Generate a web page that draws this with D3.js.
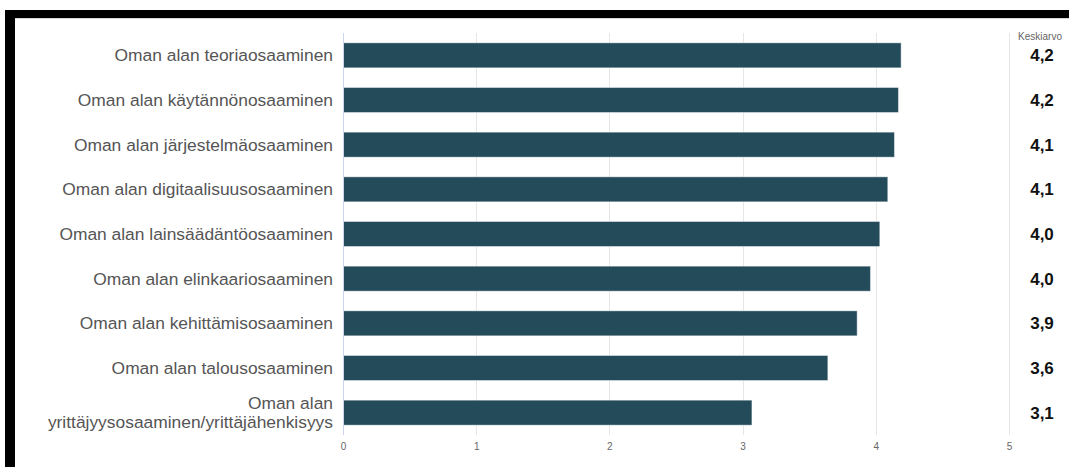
<!DOCTYPE html>
<html>
<head>
<meta charset="utf-8">
<script src="https://cdn.jsdelivr.net/npm/d3@7"></script>
<style>
  html, body { margin: 0; padding: 0; background: #fff; }
  svg { display: block; font-family: "Liberation Sans", Arial, sans-serif; }
</style>
</head>
<body>
<div id="chart"></div>
<script>
// Data
const categories = [
  "Oman alan teoriaosaaminen",
  "Oman alan käytännönosaaminen",
  "Oman alan järjestelmäosaaminen",
  "Oman alan digitaalisuusosaaminen",
  "Oman alan lainsäädäntöosaaminen",
  "Oman alan elinkaariosaaminen",
  "Oman alan kehittämisosaaminen",
  "Oman alan talousosaaminen",
  "Oman alan yrittäjyysosaaminen/yrittäjähenkisyys"
];
const values = [4.19, 4.17, 4.14, 4.09, 4.03, 3.96, 3.86, 3.64, 3.07];
const averageLabels = ["4,2", "4,2", "4,1", "4,1", "4,0", "4,0", "3,9", "3,6", "3,1"];
const xTicks = [0, 1, 2, 3, 4, 5];

// Constants
const width = 1069;
const height = 467;
const margin = {top: 33, right: 60, bottom: 32, left: 343};
const innerWidth = 1009 - margin.left;
const innerHeight = height - margin.top - margin.bottom;
const barColor = "#244b5a";

const svg = d3.select("#chart")
  .append("svg")
    .attr("width", width)
    .attr("height", height);

// Frame (black band top + left)
svg.append("rect")
  .attr("x", 5).attr("y", 10)
  .attr("width", width - 5).attr("height", 8)
  .attr("fill", "#000");
svg.append("rect")
  .attr("x", 5).attr("y", 10)
  .attr("width", 10).attr("height", height - 10)
  .attr("fill", "#000");
svg.append("line")
  .attr("x1", 15).attr("x2", width)
  .attr("y1", 18.5).attr("y2", 18.5)
  .attr("stroke", "#d8d8d8");

const innerChart = svg.append("g")
  .attr("transform", `translate(${margin.left}, ${margin.top})`);

// Scales
const xScale = d3.scaleLinear()
  .domain([0, 5])
  .range([0, innerWidth]);

const yScale = d3.scaleBand()
  .domain(categories)
  .range([0, innerHeight])
  .paddingInner(0.44)
  .paddingOuter(0.22);

// Gridlines
innerChart.append("g")
  .selectAll("line")
  .data(xTicks.slice(1))
  .join("line")
    .attr("x1", d => Math.round(xScale(d)) + 0.5)
    .attr("x2", d => Math.round(xScale(d)) + 0.5)
    .attr("y1", 0)
    .attr("y2", innerHeight)
    .attr("stroke", "#e6e6e6");

// Bottom axis (labels only)
const bottomAxis = d3.axisBottom(xScale)
  .tickValues(xTicks)
  .tickSize(0)
  .tickPadding(8)
  .tickFormat(d3.format("d"));
innerChart.append("g")
  .attr("transform", `translate(0, ${innerHeight})`)
  .call(bottomAxis)
  .call(g => g.select(".domain").remove())
  .call(g => g.selectAll("text")
    .attr("fill", "#666")
    .attr("font-size", 10)
    .attr("font-family", "Liberation Sans, Arial, sans-serif"));

// Bars
innerChart.append("g")
  .selectAll("rect")
  .data(categories)
  .join("rect")
    .attr("x", 0)
    .attr("y", d => yScale(d))
    .attr("width", (d, i) => xScale(values[i]))
    .attr("height", yScale.bandwidth())
    .attr("fill", barColor)
    .attr("stroke", "#ffffff")
    .attr("stroke-opacity", 0.45)
    .attr("stroke-width", 1);

// Zero axis line
innerChart.append("line")
  .attr("x1", 0.5).attr("x2", 0.5)
  .attr("y1", 0).attr("y2", innerHeight)
  .attr("stroke", "#ccd6eb");

// Category labels
const labelGroup = innerChart.append("g")
  .attr("text-anchor", "end")
  .attr("fill", "#555")
  .attr("font-size", 17.4);
categories.forEach((cat, i) => {
  const cy = yScale(cat) + yScale.bandwidth() / 2;
  const text = labelGroup.append("text")
    .attr("x", -10)
    .attr("y", cy);
  const lines = i === categories.length - 1
    ? ["Oman alan", "yrittäjyysosaaminen/yrittäjähenkisyys"]
    : [cat];
  const lh = 19;
  lines.forEach((l, j) => {
    text.append("tspan")
      .attr("x", -10)
      .attr("y", cy + 6 + (j - (lines.length - 1) / 2) * lh)
      .text(l);
  });
});

// Average column
svg.append("text")
  .attr("x", 1040)
  .attr("y", 40)
  .attr("text-anchor", "middle")
  .attr("fill", "#666")
  .attr("font-size", 10)
  .text("Keskiarvo");

svg.append("g")
  .attr("text-anchor", "middle")
  .attr("font-weight", "bold")
  .attr("font-size", 17)
  .attr("fill", "#111")
  .selectAll("text")
  .data(categories)
  .join("text")
    .attr("x", 1042)
    .attr("y", d => margin.top + yScale(d) + yScale.bandwidth() / 2 + 6)
    .text((d, i) => averageLabels[i]);
</script>
</body>
</html>
